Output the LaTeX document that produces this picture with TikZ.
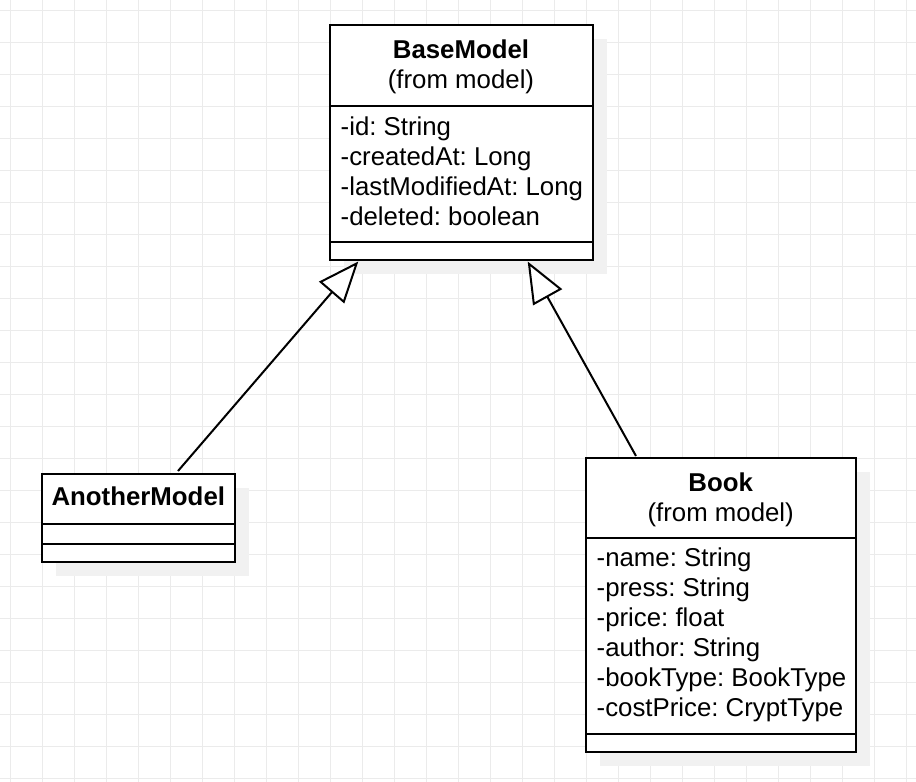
\documentclass[tikz,border=0pt]{standalone}
\usepackage{fontspec}
\setmainfont{Liberation Sans}
\usetikzlibrary{arrows.meta,shadows}
\definecolor{gridc}{HTML}{EBEBEB}
\definecolor{shadowc}{HTML}{F1F1F1}
\frenchspacing
\begin{document}
\begin{tikzpicture}[x=1bp,y=-1bp,
  classbox/.style={draw=black, line width=2bp, fill=white, inner sep=0pt, outer sep=0pt, anchor=north west,
    drop shadow={shadow xshift=14bp, shadow yshift=-14bp, opacity=1, fill=shadowc}},
  sep/.style={line width=2bp},
  txt/.style={inner sep=0pt, font=\fontsize{25.8bp}{30bp}\selectfont},
  inherit/.style={line width=2bp, -{Triangle[length=41bp, width=33bp, fill=white, line width=2bp]}}]
\useasboundingbox (0,0) rectangle (916,782);
\fill[white] (0,0) rectangle (916,782);
% grid
\foreach \k in {0,...,28} {
  \draw[gridc, line width=1bp] (10.5+32*\k,0) -- (10.5+32*\k,782);
}
\foreach \k in {0,...,24} {
  \draw[gridc, line width=1bp] (0,10.5+32*\k) -- (916,10.5+32*\k);
}
% BaseModel
\node[classbox, minimum width=263bp, minimum height=235bp] (base) at (329.5,25) {};
\draw[sep] (base.west |- 0,106) -- (base.east |- 0,106);
\draw[sep] (base.west |- 0,241.5) -- (base.east |- 0,241.5);
\node[txt, anchor=base, font=\fontsize{25.8bp}{30bp}\selectfont\bfseries] (basename) at (461,59) {BaseModel};
\node[txt, anchor=base] (basefrom) at (461,88.5) {(from model)};
\foreach \t [count=\i from 0] in {-id: String,-createdAt: Long,-lastModifiedAt: Long,-deleted: boolean} {
  \node[txt, anchor=base west] (battr\i) at (340.5,135+30*\i) {\t};
}
% AnotherModel
\node[classbox, minimum width=192.5bp, minimum height=88bp] (another) at (42,474) {};
\draw[sep] (another.west |- 0,523.5) -- (another.east |- 0,523.5);
\draw[sep] (another.west |- 0,544) -- (another.east |- 0,544);
\node[txt, anchor=base, font=\fontsize{25.8bp}{30bp}\selectfont\bfseries] (anothername) at (138.3,505.5) {AnotherModel};
% Book
\node[classbox, minimum width=270bp, minimum height=294bp] (book) at (585.7,457.7) {};
\draw[sep] (book.west |- 0,538.3) -- (book.east |- 0,538.3);
\draw[sep] (book.west |- 0,733.5) -- (book.east |- 0,733.5);
\node[txt, anchor=base, font=\fontsize{25.8bp}{30bp}\selectfont\bfseries] (bookname) at (720.7,491.5) {Book};
\node[txt, anchor=base] (bookfrom) at (720.7,521) {(from model)};
\foreach \t [count=\i from 0] in {-name: String,-press: String,-price: float,-author: String,-bookType: BookType,-costPrice: CryptType} {
  \node[txt, anchor=base west] (kattr\i) at (596.5,566.5+30*\i) {\t};
}
% connectors
\coordinate (a1) at (178,471);
\coordinate (b1) at (358.3,261.5);
\coordinate (a2) at (636,456);
\coordinate (b2) at (527.7,261.5);
\draw[inherit] (a1) -- (b1);
\draw[inherit] (a2) -- (b2);
\end{tikzpicture}
\end{document}
